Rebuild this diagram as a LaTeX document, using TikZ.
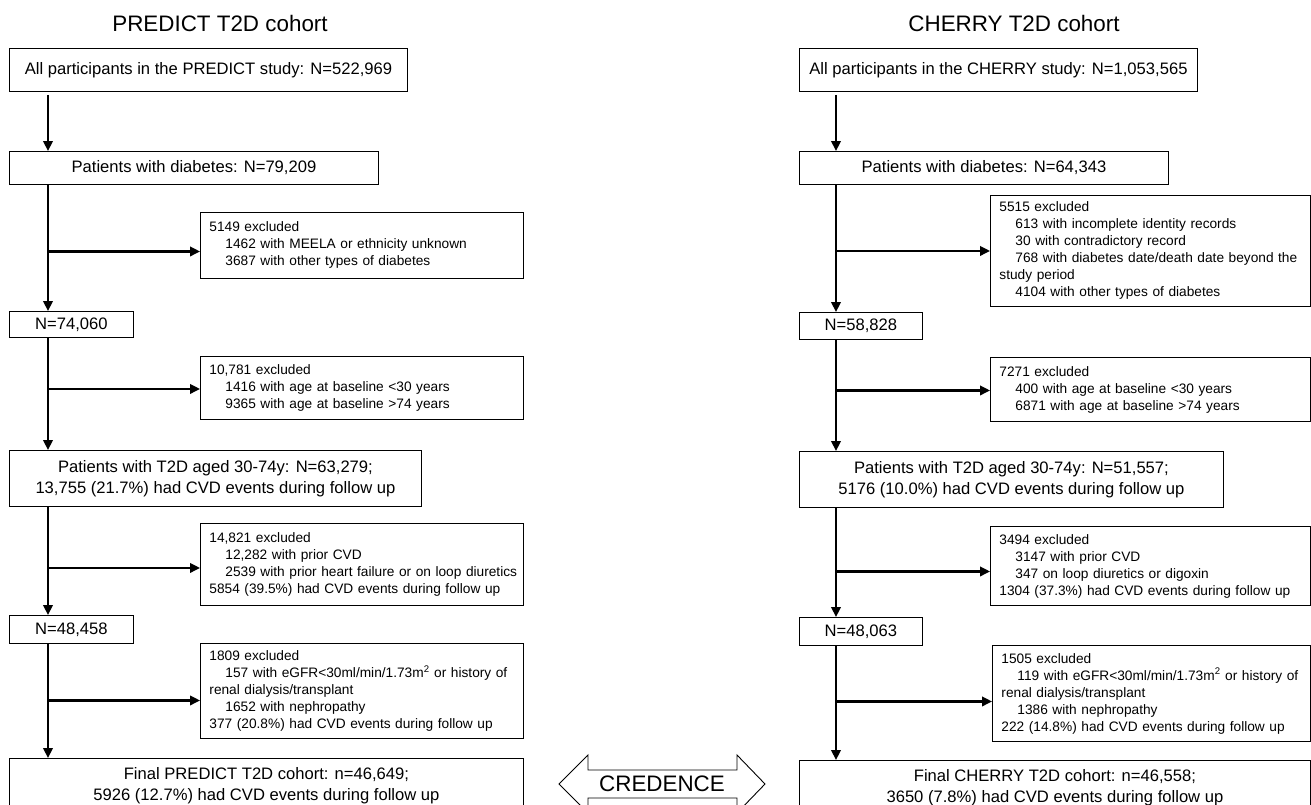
\documentclass[tikz,border=0pt]{standalone}
\usepackage{fontspec}
\setmainfont{Liberation Sans}
\usetikzlibrary{arrows.meta}

\newcommand{\exind}{\hspace*{16pt}}

\begin{document}
\begin{tikzpicture}
            [x=1pt, y=-1pt,
            every node/.style={inner sep=0pt},
            colhead/.style={font=\fontsize{22.4}{27}\selectfont},
            mainbox/.style={draw, line width=0.9pt, anchor=north west, align=center,
                font=\fontsize{16.6}{20.5}\selectfont},
            exclbox/.style={draw, line width=0.9pt, anchor=north west, align=left,
                inner xsep=9pt, font=\fontsize{13.7}{17}\selectfont},
            flow/.style={line width=2.2pt, -{Triangle[length=10pt,width=9.5pt]}}]

            \useasboundingbox (0,0) rectangle (1311,804);
            \clip (0,0) rectangle (1311,804);

            % PREDICT side
            \node[colhead] (ptitle) at (220,23) {PREDICT T2D cohort};
            \node[mainbox, minimum width=398pt, minimum height=43pt] (pall) at (9,48)
                {All participants in the PREDICT study: N=522,969};
            \node[mainbox, minimum width=369pt, minimum height=33pt] (pdiab) at (9,151)
                {Patients with diabetes: N=79,209};
            \node[exclbox, text width=305pt, minimum height=66pt] (pex1) at (200,212)
                {5149 excluded\\
                 \exind 1462 with MEELA or ethnicity unknown\\
                 \exind 3687 with other types of diabetes};
            \node[mainbox, minimum width=124pt, minimum height=26pt] (pn1) at (9,311) {N=74,060};
            \node[exclbox, text width=305pt, minimum height=63pt] (pex2) at (200,356)
                {10,781 excluded\\
                 \exind 1416 with age at baseline <30 years\\
                 \exind 9365 with age at baseline >74 years};
            \node[mainbox, minimum width=412pt, minimum height=56pt] (pt2d) at (9,450)
                {Patients with T2D aged 30-74y: N=63,279;\\
                 13,755 (21.7\%) had CVD events during follow up};
            \node[exclbox, text width=305pt, minimum height=82pt] (pex3) at (200,523)
                {14,821 excluded\\
                 \exind 12,282 with prior CVD\\
                 \mbox{\exind 2539 with prior heart failure or on loop diuretics}\\
                 5854 (39.5\%) had CVD events during follow up};
            \node[mainbox, minimum width=124pt, minimum height=28pt] (pn2) at (9,615) {N=48,458};
            \node[exclbox, text width=305pt, minimum height=95pt] (pex4) at (200,643)
                {1809 excluded\\
                 \mbox{\exind 157 with eGFR<30ml/min/1.73m\textsuperscript{2} or history of}\\
                 renal dialysis/transplant\\
                 \exind 1652 with nephropathy\\
                 377 (20.8\%) had CVD events during follow up};
            \node[mainbox, minimum width=514pt, minimum height=54pt] (pfinal) at (9,758)
                {Final PREDICT T2D cohort: n=46,649;\\
                 5926 (12.7\%) had CVD events during follow up};

            % CHERRY side
            \node[colhead] (ctitle) at (1014,23) {CHERRY T2D cohort};
            \node[mainbox, minimum width=398pt, minimum height=43pt] (call) at (799,48)
                {All participants in the CHERRY study: N=1,053,565};
            \node[mainbox, minimum width=369pt, minimum height=33pt] (cdiab) at (799,151)
                {Patients with diabetes: N=64,343};
            \node[exclbox, text width=302pt, minimum height=111pt] (cex1) at (990,195)
                {5515 excluded\\
                 \exind 613 with incomplete identity records\\
                 \exind 30 with contradictory record\\
                 \mbox{\exind 768 with diabetes date/death date beyond the}\\
                 study period\\
                 \exind 4104 with other types of diabetes};
            \node[mainbox, minimum width=123pt, minimum height=27pt] (cn1) at (799,312) {N=58,828};
            \node[exclbox, text width=302pt, minimum height=64pt] (cex2) at (990,357)
                {7271 excluded\\
                 \exind 400 with age at baseline <30 years\\
                 \exind 6871 with age at baseline >74 years};
            \node[mainbox, minimum width=424pt, minimum height=56pt] (ct2d) at (799,451)
                {Patients with T2D aged 30-74y: N=51,557;\\
                 5176 (10.0\%) had CVD events during follow up};
            \node[exclbox, text width=302pt, minimum height=79pt] (cex3) at (990,526)
                {3494 excluded\\
                 \exind 3147 with prior CVD\\
                 \exind 347 on loop diuretics or digoxin\\
                 1304 (37.3\%) had CVD events during follow up};
            \node[mainbox, minimum width=123pt, minimum height=28pt] (cn2) at (799,617) {N=48,063};
            \node[exclbox, text width=300pt, minimum height=96pt] (cex4) at (992,645)
                {1505 excluded\\
                 \mbox{\exind 119 with eGFR<30ml/min/1.73m\textsuperscript{2} or history of}\\
                 renal dialysis/transplant\\
                 \exind 1386 with nephropathy\\
                 222 (14.8\%) had CVD events during follow up};
            \node[mainbox, minimum width=511pt, minimum height=54pt] (cfinal) at (799,760)
                {Final CHERRY T2D cohort: n=46,558;\\
                 3650 (7.8\%) had CVD events during follow up};

            % spines
            \coordinate (pspine) at (48,0);
            \coordinate (cspine) at (836,0);

            \draw[flow] ([yshift=-3pt]pall.south -| pspine) -- (pdiab.north -| pspine);
            \draw[flow] (pdiab.south -| pspine) -- (pn1.north -| pspine);
            \draw[flow] (pn1.south -| pspine) -- (pt2d.north -| pspine);
            \draw[flow] (pt2d.south -| pspine) -- (pn2.north -| pspine);
            \draw[flow] (pn2.south -| pspine) -- (pfinal.north -| pspine);
            \draw[flow] ([yshift=-6pt]pex1.west -| pspine) -- ([yshift=-6pt]pex1.west);
            \draw[flow] ([yshift=-1pt]pex2.west -| pspine) -- ([yshift=-1pt]pex2.west);
            \draw[flow] ([yshift=-3.5pt]pex3.west -| pspine) -- ([yshift=-3.5pt]pex3.west);
            \draw[flow] ([yshift=-9.5pt]pex4.west -| pspine) -- ([yshift=-9.5pt]pex4.west);

            \draw[flow] ([yshift=-3pt]call.south -| cspine) -- (cdiab.north -| cspine);
            \draw[flow] (cdiab.south -| cspine) -- (cn1.north -| cspine);
            \draw[flow] (cn1.south -| cspine) -- (ct2d.north -| cspine);
            \draw[flow] (ct2d.south -| cspine) -- (cn2.north -| cspine);
            \draw[flow] (cn2.south -| cspine) -- (cfinal.north -| cspine);
            \draw[flow] (cex1.west -| cspine) -- (cex1.west);
            \draw[flow] ([yshift=-1pt]cex2.west -| cspine) -- ([yshift=-1pt]cex2.west);
            \draw[flow] ([yshift=-5.5pt]cex3.west -| cspine) -- ([yshift=-5.5pt]cex3.west);
            \draw[flow] ([yshift=-8pt]cex4.west -| cspine) -- ([yshift=-8pt]cex4.west);

            % CREDENCE double arrow
            \node[colhead] (credence) at (662,784) {CREDENCE};
            \draw[line width=0.9pt] (559,784) -- (588,755) -- (588,770) -- (737,770) -- (737,755)
                -- (765,784) -- (737,813) -- (737,798) -- (588,798) -- (588,813) -- cycle;
        \end{tikzpicture}
\end{document}
